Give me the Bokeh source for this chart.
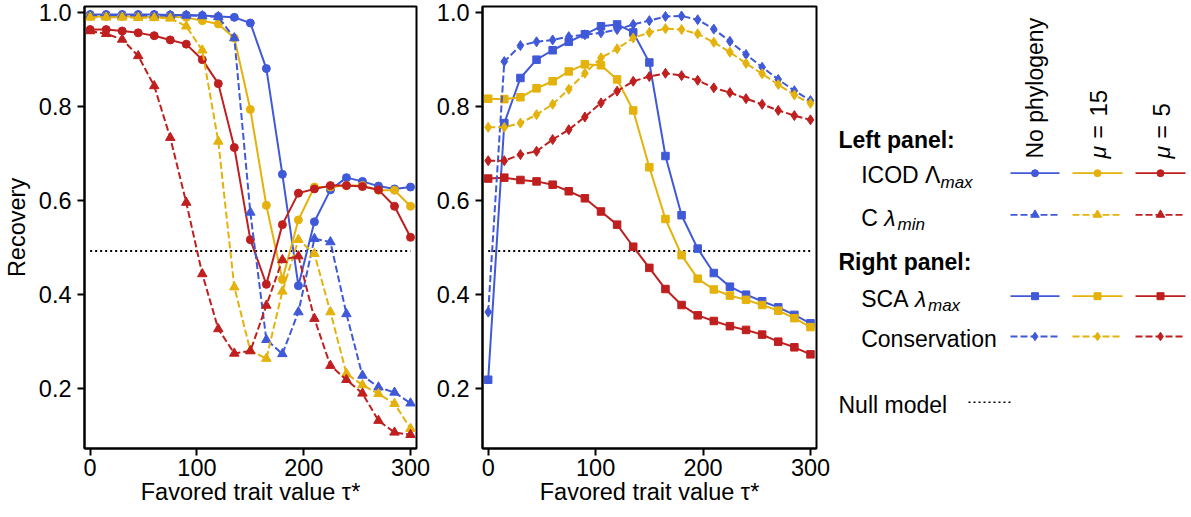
import math
from bokeh.plotting import figure
from bokeh.models import Range1d, FixedTicker, PrintfTickFormatter
from bokeh.layouts import row
from bokeh.core.properties import value
from bokeh.embed import file_html
from bokeh.resources import INLINE

# ---------------- data ----------------
tau = [0, 15, 30, 45, 60, 75, 90, 105, 120, 135, 150, 165, 180, 195, 210, 225, 240, 255, 270, 285, 300]

# Left panel
icod_nophylo = [0.995, 0.995, 0.995, 0.995, 0.995, 0.994, 0.994, 0.993, 0.991, 0.989, 0.977, 0.880, 0.655, 0.418, 0.554, 0.622, 0.648, 0.640, 0.630, 0.624, 0.628]
icod_mu15 = [0.991, 0.991, 0.991, 0.991, 0.990, 0.990, 0.989, 0.982, 0.975, 0.945, 0.793, 0.589, 0.431, 0.558, 0.628, 0.628, 0.631, 0.631, 0.621, 0.621, 0.587]
icod_mu5 = [0.963, 0.963, 0.960, 0.956, 0.950, 0.941, 0.932, 0.899, 0.848, 0.712, 0.516, 0.421, 0.548, 0.615, 0.624, 0.631, 0.631, 0.629, 0.622, 0.587, 0.521]
c_nophylo = [0.993, 0.993, 0.993, 0.993, 0.993, 0.993, 0.993, 0.992, 0.990, 0.945, 0.574, 0.303, 0.273, 0.362, 0.518, 0.511, 0.358, 0.227, 0.202, 0.191, 0.168]
c_mu15 = [0.989, 0.989, 0.989, 0.988, 0.988, 0.987, 0.970, 0.919, 0.725, 0.415, 0.280, 0.263, 0.406, 0.516, 0.486, 0.362, 0.231, 0.207, 0.188, 0.167, 0.114]
c_mu5 = [0.960, 0.954, 0.942, 0.907, 0.843, 0.733, 0.595, 0.443, 0.326, 0.274, 0.279, 0.376, 0.473, 0.481, 0.348, 0.248, 0.218, 0.189, 0.131, 0.106, 0.101]

# Right panel
sca_nophylo = [0.218, 0.764, 0.860, 0.899, 0.919, 0.937, 0.953, 0.970, 0.974, 0.957, 0.893, 0.694, 0.568, 0.497, 0.445, 0.416, 0.399, 0.385, 0.372, 0.356, 0.338]
sca_mu15 = [0.816, 0.815, 0.819, 0.838, 0.853, 0.874, 0.889, 0.887, 0.857, 0.791, 0.670, 0.560, 0.483, 0.433, 0.410, 0.397, 0.388, 0.377, 0.365, 0.349, 0.330]
sca_mu5 = [0.646, 0.648, 0.643, 0.640, 0.633, 0.619, 0.604, 0.576, 0.548, 0.501, 0.456, 0.411, 0.377, 0.355, 0.343, 0.332, 0.324, 0.314, 0.299, 0.287, 0.272]
cons_nophylo = [0.362, 0.895, 0.929, 0.937, 0.941, 0.948, 0.952, 0.956, 0.963, 0.974, 0.982, 0.991, 0.992, 0.984, 0.964, 0.938, 0.910, 0.883, 0.857, 0.833, 0.812]
cons_mu15 = [0.755, 0.755, 0.764, 0.782, 0.804, 0.836, 0.870, 0.903, 0.922, 0.945, 0.957, 0.965, 0.963, 0.954, 0.936, 0.915, 0.891, 0.869, 0.846, 0.824, 0.806]
cons_mu5 = [0.684, 0.684, 0.697, 0.704, 0.729, 0.750, 0.777, 0.807, 0.832, 0.853, 0.863, 0.870, 0.865, 0.855, 0.839, 0.829, 0.816, 0.804, 0.791, 0.780, 0.771]

null_value = 0.492

x_ticks = [0, 100, 200, 300]
y_ticks = [0.2, 0.4, 0.6, 0.8, 1.0]

# ---------------- style ----------------
BLUE = "#4059d8"
YELLOW = "#e4b20b"
RED = "#bf1f1f"
COLORS = [BLUE, YELLOW, RED]
FONT = "Liberation Sans"
FS = "23.5px"
LFS = 23
H = 517
TOP = 6
BOTTOM = 69


def make_panel(width, left, right, ylabel=None):
    p = figure(width=width, height=H,
               x_range=Range1d(-5.3, 305.6), y_range=Range1d(0.0717, 1.0121),
               output_backend="svg", toolbar_location=None,
               min_border_left=left, min_border_right=right,
               min_border_top=TOP, min_border_bottom=BOTTOM)
    p.grid.visible = False
    p.outline_line_color = "black"
    p.outline_line_width = 2
    p.outline_line_alpha = 1
    p.background_fill_color = "white"
    p.border_fill_color = "white"
    p.xaxis.ticker = FixedTicker(ticks=x_ticks)
    p.yaxis.ticker = FixedTicker(ticks=y_ticks)
    p.yaxis.formatter = PrintfTickFormatter(format="%.1f")
    for ax in p.xaxis + p.yaxis:
        ax.axis_line_width = 2
        ax.axis_line_color = "black"
        ax.major_tick_line_width = 2
        ax.major_tick_line_color = "black"
        ax.major_tick_out = 7
        ax.major_tick_in = 0
        ax.minor_tick_out = 0
        ax.minor_tick_in = 0
        ax.major_label_text_font = FONT
        ax.major_label_text_font_size = FS
        ax.major_label_text_color = "black"
        ax.axis_label_text_font = FONT
        ax.axis_label_text_font_size = FS
        ax.axis_label_text_font_style = "normal"
        ax.axis_label_text_color = "black"
    p.xaxis.major_label_standoff = 3
    p.yaxis.major_label_standoff = 6
    p.xaxis.axis_label = "Favored trait value τ*"
    p.xaxis.axis_label_standoff = 0
    if ylabel:
        p.yaxis.axis_label = ylabel
        p.yaxis.axis_label_standoff = 6
    return p


def draw_series(p, series, marker, dash, size):
    for vals, c in zip(series, COLORS):
        p.line(tau, vals, line_color=c, line_width=2, line_dash=dash)
        p.scatter(tau, vals, marker=marker, size=size, fill_color=c, line_color=c, line_width=1)


def null_line(p):
    p.line([tau[0], tau[-1]], [null_value, null_value], line_color="black",
           line_width=2, line_dash="2 3")


# Left panel: canvas 0..432, frame 82..416
p1 = make_panel(432, 82, 16, "Recovery")
null_line(p1)
draw_series(p1, [icod_nophylo, icod_mu15, icod_mu5], "circle", "solid", 8)
draw_series(p1, [c_nophylo, c_mu15, c_mu5], "triangle", "7 3", 9.5)

# Right panel: canvas 432..830, frame 482..816
p2 = make_panel(398, 50, 14)
null_line(p2)
draw_series(p2, [sca_nophylo, sca_mu15, sca_mu5], "square", "solid", 7.5)
draw_series(p2, [cons_nophylo, cons_mu15, cons_mu5], "diamond", "7 3", 10)

# ---------------- legend panel (page coordinates) ----------------
LX0, LX1 = 830, 1191
lg = figure(width=LX1 - LX0, height=H, x_range=Range1d(LX0, LX1),
            y_range=Range1d(-(H - BOTTOM), -TOP),
            output_backend="svg", toolbar_location=None,
            min_border_left=0, min_border_right=0,
            min_border_top=TOP, min_border_bottom=BOTTOM,
            x_axis_type=None, y_axis_type=None)
lg.outline_line_color = None
lg.grid.visible = False


def Y(py):
    return -py


BASE_SHIFT = 0.37  # em; correction between intended glyph baseline and rendered one


def txt(x, py, s, size=LFS, style="normal", rotated=False):
    d = BASE_SHIFT * size
    if rotated:
        x, py, angle = x - d, py, math.pi / 2
    else:
        py, angle = py - d, 0.0
    lg.text(x=[x], y=[Y(py)], text=[s], text_font=value(FONT),
            text_font_size=value(f"{size}px"), text_font_style=style,
            text_align="left", text_baseline="alphabetic",
            angle=angle, text_color="black")


# column headers (rotated)
txt(1043, 158, "No phylogeny", rotated=True)
for bx, num in [(1106.5, "15"), (1170, "5")]:
    txt(bx, 158, "μ", style="italic", rotated=True)
    txt(bx, 138, "=", rotated=True)
    txt(bx, 116, num, size=24, rotated=True)

txt(838, 148, "Left panel:", style="bold")
txt(860.7, 183.5, "ICOD Λ")
txt(940, 188, "max", size=17, style="italic")
txt(860.7, 226.5, "C")
txt(883.7, 226.5, "λ", style="italic")
txt(897, 230.5, "min", size=17, style="italic")
txt(838, 270, "Right panel:", style="bold")
txt(860.7, 307, "SCA")
txt(914.4, 307, "λ", style="italic")
txt(927.5, 311, "max", size=17, style="italic")
txt(860.7, 347.5, "Conservation")
txt(838, 413, "Null model")

seg_x = [(1010, 1059), (1072, 1122), (1135, 1185)]
rows = [(172.7, "solid", "circle", 7), (214.3, "7 3", "triangle", 8.5),
        (295.7, "solid", "square", 7), (336.0, "7 3", "diamond", 8.5)]
for py, dash, marker, size in rows:
    for (x0, x1), c in zip(seg_x, COLORS):
        lg.line([x0, x1], [Y(py), Y(py)], line_color=c, line_width=1.8, line_dash=dash)
        lg.scatter([(x0 + x1) / 2], [Y(py)], marker=marker, size=size,
                   fill_color=c, line_color=c)
lg.line([968, 1013], [Y(401.7), Y(401.7)], line_color="black", line_width=1.5, line_dash="2 3")

layout = row(p1, p2, lg)
open("out.html", "w").write(file_html(layout, INLINE))
